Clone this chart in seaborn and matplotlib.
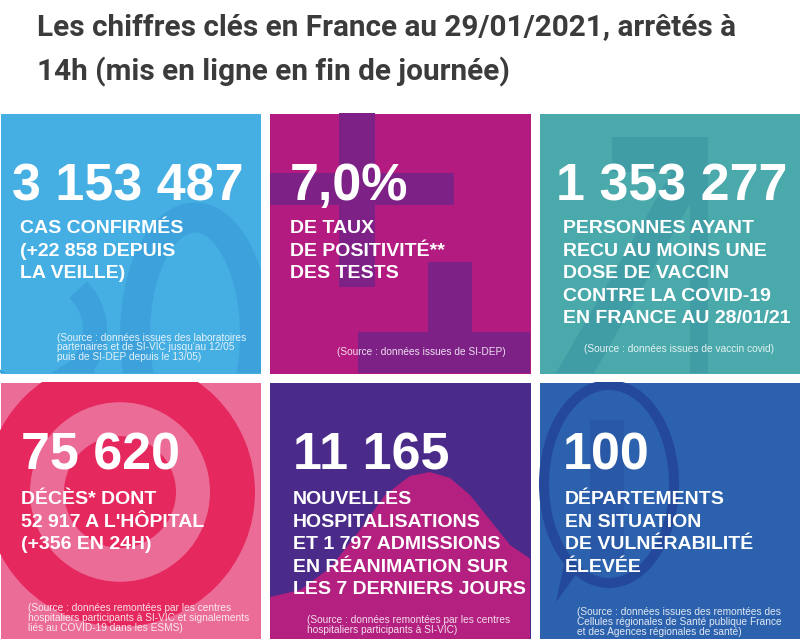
import matplotlib
matplotlib.use('Agg')
import numpy as np
import pandas as pd
import matplotlib.pyplot as plt
import seaborn as sns
from matplotlib.colors import ListedColormap
from matplotlib.patches import Rectangle, Circle, Ellipse, Polygon, Arc

# key figures of the day
key_values = [3153487, 7.0, 1353277, 75620, 11165, 100]
key_kinds = ['int', 'pct', 'int', 'int', 'int', 'int']

tile_labels = [
    ['CAS CONFIRMÉS', '(+22 858 DEPUIS', 'LA VEILLE)'],
    ['DE TAUX', 'DE POSITIVITÉ**', 'DES TESTS'],
    ['PERSONNES AYANT', 'RECU AU MOINS UNE', 'DOSE DE VACCIN',
     'CONTRE LA COVID-19', 'EN FRANCE AU 28/01/21'],
    ['DÉCÈS* DONT', '52 917 A L\'HÔPITAL', '(+356 EN 24H)'],
    ['NOUVELLES', 'HOSPITALISATIONS', 'ET 1 797 ADMISSIONS',
     'EN RÉANIMATION SUR', 'LES 7 DERNIERS JOURS'],
    ['DÉPARTEMENTS', 'EN SITUATION', 'DE VULNÉRABILITÉ', 'ÉLEVÉE'],
]

tile_sources = [
    ['(Source : données issues des laboratoires',
     'partenaires et de SI-VIC jusqu\'au 12/05',
     'puis de SI-DEP depuis le 13/05)'],
    ['(Source : données issues de SI-DEP)'],
    ['(Source : données issues de vaccin covid)'],
    ['(Source : données remontées par les centres',
     'hospitaliers participants à SI-VIC et signalements',
     'liés au COVID-19 dans les ESMS)'],
    ['(Source : données remontées par les centres',
     'hospitaliers participants à SI-VIC)'],
    ['(Source : données issues des remontées des',
     'Cellules régionales de Santé publique France',
     'et des Agences régionales de santé)'],
]

tile_colors = ['#45aee3', '#b41b80', '#4aa9ab', '#ec6c98', '#4a2b8a', '#2c62ad']

title = ('Les chiffres clés en France au 29/01/2021, arrêtés à\n'
         '14h (mis en ligne en fin de journée)')

W, H = 800, 639


def fmt(v, kind):
    if kind == 'pct':
        return f'{v:.1f}'.replace('.', ',') + '%'
    return f'{int(v):,}'.replace(',', ' ')


def fx(x):
    return x / W


def fy(y):
    return 1 - y / H


fig = plt.figure(figsize=(8, 6.39), dpi=100)
fig.patch.set_facecolor('white')

# tile grid drawn as a heatmap, white grid lines make the gaps
gap = 9
cell_w = (W + gap) / 3
cell_h = 269
top = 113 - gap / 2
ax = fig.add_axes([fx(-gap / 2), fy(top + 2 * cell_h), (W + gap) / W, 2 * cell_h / H])
grid = pd.DataFrame(np.arange(6).reshape(2, 3))
sns.heatmap(grid, cmap=ListedColormap(tile_colors), vmin=-0.5, vmax=5.5, cbar=False,
            linewidths=gap * 0.72, linecolor='white', xticklabels=False,
            yticklabels=False, ax=ax)
ax.set_axis_off()


def d(x, y):
    return ((x + gap / 2) / cell_w, (y - top) / cell_h)


def dw(w):
    return w / cell_w


def dh(h):
    return h / cell_h


def tile_box(i):
    r, c = divmod(i, 3)
    x0 = c * cell_w
    y0 = top + r * cell_h + gap / 2
    return x0, y0, cell_w - gap, cell_h - gap


def clip_to(artist, i):
    x0, y0, w, h = tile_box(i)
    rect = Rectangle(d(x0, y0), dw(w), dh(h), transform=ax.transData)
    artist.set_clip_on(True)
    artist.set_clip_path(rect)
    return artist


def poly(i, pts, color):
    p = Polygon([d(x, y) for x, y in pts], closed=True, facecolor=color,
                edgecolor='none', zorder=2)
    ax.add_patch(p)
    clip_to(p, i)


def add(i, patch):
    ax.add_patch(patch)
    clip_to(patch, i)


# background decorations
dark_blue = '#3da2dc'
add(0, Ellipse(d(195, 335), dw(120), dh(235), facecolor='none', edgecolor=dark_blue,
               linewidth=30 * 0.72, zorder=2))
add(0, Arc(d(30, 330), dw(130), dh(120), theta1=-40, theta2=170, edgecolor=dark_blue,
           linewidth=24 * 0.72, zorder=2))
poly(0, [(72, 360), (95, 372), (80, 380), (40, 380)], dark_blue)

poly(1, [(339, 113), (375, 113), (375, 287), (339, 287)], '#7e2187')
poly(1, [(270, 173), (454, 173), (454, 205), (270, 205)], '#7e2187')
poly(1, [(428, 262), (472, 262), (472, 380), (428, 380)], '#7e2187')
poly(1, [(358, 332), (535, 332), (535, 380), (358, 380)], '#7e2187')

poly(2, [(612, 137), (708, 137), (708, 172), (612, 172)], '#419da5')
poly(2, [(672, 172), (708, 172), (590, 380), (552, 380)], '#419da5')
poly(2, [(690, 137), (708, 137), (708, 380), (690, 380)], '#419da5')

for r, col in [(135, '#e5295e'), (90, '#ec6c98'), (56, '#e5295e')]:
    add(3, Circle(d(120, 492), dw(r), facecolor=col, edgecolor='none', zorder=2))

hill = [(270, 597), (300, 590), (330, 568), (360, 530), (385, 495), (410, 476),
        (430, 472), (450, 478), (470, 495), (490, 520), (510, 545), (535, 562),
        (535, 645), (270, 645)]
poly(4, hill, '#b3207f')

poly(5, [(590, 420), (624, 420), (624, 560), (590, 560)], '#2958a6')
add(5, Ellipse(d(609, 484), dw(130), dh(198), facecolor='none', edgecolor='#24499a',
               linewidth=10 * 0.72, zorder=2))
poly(5, [(566, 555), (578, 572), (556, 602)], '#24499a')

# text
title_lines = title.split('\n')
for k, line in enumerate(title_lines):
    fig.text(fx(37), fy(35 + 45 * k), line, fontsize=29.8 * 0.72, fontweight='bold',
             family=['Roboto', 'DejaVu Sans'], color='#3b3b3b', va='baseline')

num_x = [12, 290, 556, 21, 293, 563]
num_y = [200, 200, 200, 469, 469, 469]
lab_x = [20, 290, 563, 21, 293, 565]
lab_y0 = [233, 233, 233, 504, 504, 504]
src_x = [57, 337, 584, 28, 307, 577]
src_y0 = [338, 352, 349, 608, 620, 612]
src_step = [9.5, 9.5, 9.5, 10, 10, 10]

for i in range(6):
    fig.text(fx(num_x[i]), fy(num_y[i]), fmt(key_values[i], key_kinds[i]),
             fontsize=52 * 0.72, fontweight='bold', family='Liberation Sans',
             color='white', va='baseline')
    for k, line in enumerate(tile_labels[i]):
        fig.text(fx(lab_x[i]), fy(lab_y0[i] + 22.6 * k), line, fontsize=19.5 * 0.72,
                 fontweight='bold', family='Liberation Sans', color='white',
                 va='baseline')
    for k, line in enumerate(tile_sources[i]):
        fig.text(fx(src_x[i]), fy(src_y0[i] + src_step[i] * k), line, fontsize=7.3,
                 family='Liberation Sans', color='white', alpha=0.85, va='center')

fig.savefig('out.png', dpi=100, facecolor='white')
